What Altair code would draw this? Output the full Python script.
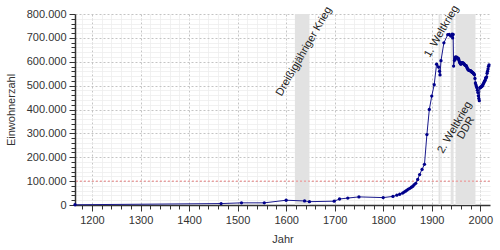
import altair as alt
import pandas as pd

# Population of Leipzig (Einwohnerzahl)
years = [1165, 1466, 1508, 1555, 1600, 1638, 1648, 1699, 1710, 1727, 1750, 1800,
         1820, 1828, 1834, 1840, 1843, 1846, 1849, 1852, 1855, 1858, 1861, 1864,
         1867, 1871, 1875, 1880, 1885, 1890, 1895, 1900, 1905, 1910, 1914, 1916,
         1917, 1919, 1925, 1933, 1936, 1939, 1942, 1943, 1944, 1945, 1947, 1948,
         1949, 1950, 1951, 1952, 1953, 1954, 1955, 1956, 1957, 1958, 1959, 1960,
         1961, 1962, 1963, 1964, 1965, 1966, 1967, 1968, 1969, 1970, 1971, 1972,
         1973, 1974, 1975, 1976, 1977, 1978, 1979, 1980, 1981, 1982, 1983, 1984,
         1985, 1986, 1987, 1988, 1989, 1990, 1991, 1992, 1993, 1994, 1995, 1996,
         1997, 1998, 1999, 2000, 2001, 2002, 2003, 2004, 2005, 2006, 2007, 2008,
         2009, 2010, 2011, 2012, 2013, 2014, 2015, 2016, 2017, 2018]
population = [1000, 6000, 9000, 9000, 20000, 17000, 14000, 16000, 25000, 29000, 34000, 31000,
              36000, 41000, 45000, 50000, 54000, 58000, 62374, 66682, 69706, 74209, 78495, 85394,
              90824, 106925, 127387, 149081, 170340, 295025, 399963, 456124, 503672, 589850, 578000, 560000,
              545000, 604380, 679159, 713470, 714000, 707365, 716000, 700000, 714000, 582000, 606000, 613000,
              620000, 617574, 619000, 618000, 615000, 612000, 613707, 607000, 600000, 596000, 593000, 589632,
              594000, 596000, 595000, 594880, 594000, 592000, 590000, 587000, 585000, 583885, 583311, 578000,
              574000, 570000, 566630, 565000, 564000, 563000, 563000, 562480, 559574, 558000, 556000, 555000,
              553660, 551000, 549000, 545307, 530010, 511079, 503191, 496647, 490851, 481121, 470778, 457173,
              446491, 437101, 489532, 493208, 493052, 494795, 497531, 498491, 502651, 506578, 510512, 515469,
              518862, 522883, 531809, 531500, 537000, 551871, 560472, 570000, 581000, 587000]

# Historical periods (shaded bands)
period_names = ["Dreißigjähriger Krieg", "1. Weltkrieg", "2. Weltkrieg", "DDR"]
period_start = [1618, 1914, 1939, 1949]
period_end = [1648, 1918, 1945, 1990]

# Period labels
label_text = ["Dreißigjähriger Krieg", "1. Weltkrieg", "2. Weltkrieg", "DDR"]
label_year = [1637, 1920.5, 1947.5, 1971]
label_value = [643000, 727000, 325000, 323000]

# Großstadt threshold
threshold = [100000]

x_ticks = list(range(1180, 2001, 20))
y_ticks = list(range(0, 800001, 20000))

df = pd.DataFrame({"Jahr": years, "Einwohner": population})
bands = pd.DataFrame({"name": period_names, "start": period_start, "end": period_end})
labels = pd.DataFrame({"text": label_text, "year": label_year, "value": label_value})
thr = pd.DataFrame({"v": threshold})

FONT = "Liberation Sans"

xscale = alt.Scale(domain=[1165, 2020], nice=False, zero=False)
yscale = alt.Scale(domain=[0, 800000], nice=False)

x_axis = alt.Axis(
    title="Jahr",
    values=x_ticks,
    labelExpr="datum.value % 100 === 0 ? datum.value : ''",
    gridColor={"condition": {"test": "datum.value % 100 === 0", "value": "#c4c4c4"}, "value": "#ececec"},
    gridDash={"condition": {"test": "datum.value % 100 === 0", "value": [2, 2]}, "value": [1, 0]},
    tickSize={"condition": {"test": "datum.value % 100 === 0", "value": 6}, "value": 4},
    labelPadding=3,
    titlePadding=8,
    labelOverlap=False,
)
y_axis = alt.Axis(
    title="Einwohnerzahl",
    values=y_ticks,
    labelExpr="datum.value % 100000 === 0 ? replace(format(datum.value, ','), regexp(',', 'g'), '.') : ''",
    gridColor={"condition": {"test": "datum.value % 100000 === 0", "value": "#c4c4c4"}, "value": "#ececec"},
    gridDash={"condition": {"test": "datum.value % 100000 === 0", "value": [2, 2]}, "value": [1, 0]},
    tickSize={"condition": {"test": "datum.value % 100000 === 0", "value": 6}, "value": 4},
    labelPadding=3,
    titlePadding=10,
    labelOverlap=False,
)

band_layer = alt.Chart(bands).mark_rect(color="#e2e2e2").encode(
    x=alt.X("start:Q", scale=xscale, axis=x_axis),
    x2="end:Q",
)

rule_layer = alt.Chart(thr).mark_rule(color="#f08a8a", strokeDash=[2, 2], strokeWidth=1).encode(
    y=alt.Y("v:Q", scale=yscale, axis=y_axis),
)

line_layer = alt.Chart(df).mark_line(color="#1a1a8c", strokeWidth=1).encode(
    x=alt.X("Jahr:Q", scale=xscale, axis=x_axis),
    y=alt.Y("Einwohner:Q", scale=yscale, axis=y_axis),
)
point_layer = alt.Chart(df).mark_circle(color="#00008b", size=11, opacity=1).encode(
    x=alt.X("Jahr:Q", scale=xscale, axis=x_axis),
    y=alt.Y("Einwohner:Q", scale=yscale, axis=y_axis),
)

text_layer = alt.Chart(labels).mark_text(
    angle=300, align="center", baseline="middle", font=FONT, fontSize=11, color="#222"
).encode(
    x=alt.X("year:Q", scale=xscale, axis=x_axis),
    y=alt.Y("value:Q", scale=yscale, axis=y_axis),
    text="text:N",
)

chart = alt.layer(band_layer, rule_layer, line_layer, point_layer, text_layer).properties(
    width=415,
    height=191,
    autosize=alt.AutoSizeParams(type="none"),
    padding={"left": 75, "top": 14, "right": 10, "bottom": 45},
    background="white",
).configure_view(stroke=None).configure_axis(
    labelFont=FONT,
    titleFont=FONT,
    labelFontSize=11,
    titleFontSize=11,
    labelColor="#333",
    titleColor="#333",
    titleFontWeight="normal",
    domainColor="#333",
    domainWidth=1.5,
    tickColor="#333",
    tickWidth=1,
)

chart.save("out.html", embed_options={"renderer": "svg", "actions": False})
